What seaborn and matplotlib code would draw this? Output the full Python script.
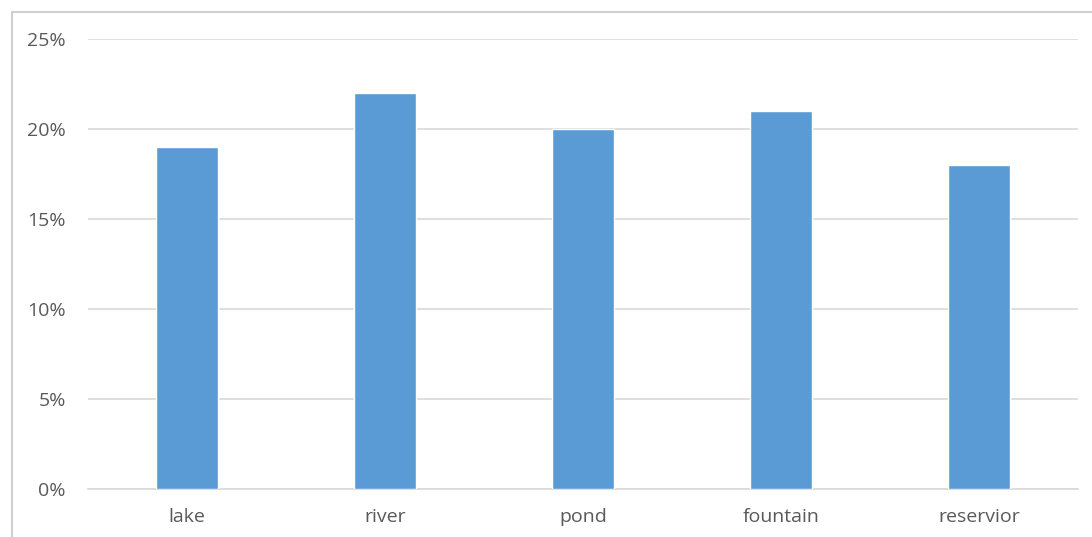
import matplotlib
matplotlib.use("Agg")
import matplotlib.pyplot as plt
from matplotlib.patches import Rectangle
from matplotlib.ticker import PercentFormatter
import seaborn as sns
import pandas as pd

categories = ["lake", "river", "pond", "fountain", "reservior"]
shares = [0.19, 0.22, 0.20, 0.21, 0.18]
y_ticks = [0.0, 0.05, 0.10, 0.15, 0.20, 0.25]

sns.set_theme(style="white")
plt.rcParams["font.family"] = ["Open Sans", "DejaVu Sans"]

df = pd.DataFrame({"category": categories, "share": shares})

fig = plt.figure(figsize=(10.92, 5.37), dpi=100)
ax = fig.add_axes([88 / 1092, 48 / 537, 990 / 1092, 450 / 537])

sns.barplot(data=df, x="category", y="share", color="#5B9BD5",
            saturation=1, width=0.31, ax=ax, zorder=3)

ax.set_ylim(0, 0.25)
ax.set_yticks(y_ticks)
ax.yaxis.set_major_formatter(PercentFormatter(1.0, decimals=0))
ax.grid(axis="y", color="#D9D9D9", linewidth=1.2, zorder=0)
ax.grid(axis="x", visible=False)
for side in ["top", "right", "left"]:
    ax.spines[side].set_visible(False)
ax.spines["bottom"].set_color("#D9D9D9")
ax.spines["bottom"].set_linewidth(1.2)
ax.set_xlabel("")
ax.set_ylabel("")
ax.tick_params(axis="both", length=0, labelsize=14, labelcolor="#595959")
ax.tick_params(axis="y", pad=16)
ax.tick_params(axis="x", pad=14)

# chart frame
fig.patches.append(Rectangle((12 / 1092, -0.1), 1.2, (537 - 12) / 537 + 0.1,
                             transform=fig.transFigure, fill=False,
                             edgecolor="#D0D0D0", linewidth=1.5))

fig.savefig("out.png", dpi=100)
